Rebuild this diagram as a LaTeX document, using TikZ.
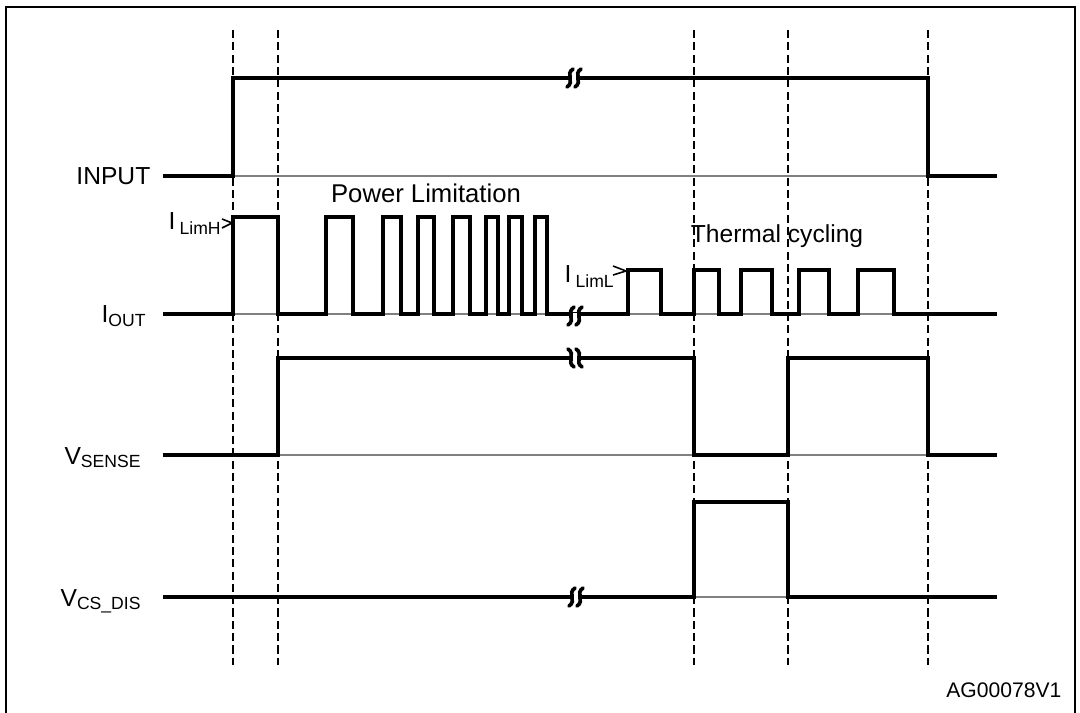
\documentclass[tikz,border=0pt]{standalone}
\usepackage{fontspec}
\setmainfont{Liberation Sans}
\begin{document}
\begin{tikzpicture}[x=0.01cm,y=-0.01cm,
  wave/.style={line width=1.05pt, line join=miter},
  refl/.style={line width=0.3pt, gray},
  guide/.style={line width=0.45pt, dash pattern=on 2.3pt off 1.2pt},
  lbl/.style={font=\fontsize{7}{8}\selectfont, inner sep=0pt},
  small/.style={font=\fontsize{6}{7}\selectfont, inner sep=0pt},
  tick/.style={line width=0.45pt},
  brk/.pic={
    \fill[white] (-5,-3) rectangle (5,3);
    \draw[line width=1.05pt, line cap=round] (-1,-9) .. controls (-9,-4) and (1,4) .. (-7,9);
    \draw[line width=1.05pt, line cap=round] (7,-9) .. controls (-1,-4) and (9,4) .. (1,9);
  }]
\useasboundingbox (0,0) rectangle (1080,713);
% frame
\draw[line width=0.8pt] (6,720) -- (6,7) -- (1075,7) -- (1075,720);
% guides
\foreach \gx in {233,278,694,788,928}
  \draw[guide] (\gx,30) -- (\gx,665);
% reference lines
\foreach \gy in {176,314,455,597}
  \draw[refl] (163,\gy) -- (997,\gy);
% INPUT
\draw[wave] (163,176) -- (233,176) -- (233,78) -- (928,78) -- (928,176) -- (997,176);
% I_OUT
\draw[wave] (163,314) -- (233,314) -- (233,217) -- (278,217) -- (278,314)
  -- (326,314) -- (326,217) -- (353,217) -- (353,314)
  -- (383,314) -- (383,217) -- (401,217) -- (401,314)
  -- (418,314) -- (418,217) -- (434,217) -- (434,314)
  -- (453,314) -- (453,217) -- (470,217) -- (470,314)
  -- (486,314) -- (486,217) -- (498,217) -- (498,314)
  -- (509,314) -- (509,217) -- (522,217) -- (522,314)
  -- (535,314) -- (535,217) -- (547,217) -- (547,314)
  -- (628,314) -- (628,270) -- (661,270) -- (661,314)
  -- (694,314) -- (694,270) -- (719,270) -- (719,314)
  -- (741,314) -- (741,270) -- (772,270) -- (772,314)
  -- (799,314) -- (799,270) -- (829,270) -- (829,314)
  -- (858,314) -- (858,270) -- (894,270) -- (894,314)
  -- (997,314);
% V_SENSE
\draw[wave] (163,455) -- (278,455) -- (278,358) -- (694,358) -- (694,455)
  -- (788,455) -- (788,358) -- (928,358) -- (928,455) -- (997,455);
% V_CS_DIS
\draw[wave] (163,597) -- (694,597) -- (694,502) -- (788,502) -- (788,597) -- (997,597);
% breaks
\pic at (574,78) {brk};
\pic at (575,316) {brk};
\pic[xscale=-1] at (575,358) {brk};
\pic at (576,597) {brk};
% labels
\node[lbl, anchor=base east] (lin) at (151,185) {INPUT};
\node[lbl, anchor=base east] (lout) at (148,323) {I\textsubscript{OUT}};
\node[lbl, anchor=base east] (lsense) at (143,464) {V\textsubscript{SENSE}};
\node[lbl, anchor=base east] (lcs) at (143,606) {V\textsubscript{CS\_DIS}};
\node[lbl, font=\fontsize{7.3}{8}\selectfont, anchor=base] (plim) at (426,203) {Power Limitation};
\node[lbl, anchor=base] (tcyc) at (777,243) {Thermal cycling};
\node[lbl, anchor=base west] (limh) at (168,230) {I\,\textsubscript{LimH}};
\node[lbl, anchor=base west] (liml) at (564,283) {I\,\textsubscript{LimL}};
\draw[tick] (222,219) -- (232,223) -- (222,228);
\draw[tick] (613,266) -- (626,271) -- (613,275);
\node[small, anchor=base east] (code) at (1062,697) {AG00078V1};
\end{tikzpicture}
\end{document}
